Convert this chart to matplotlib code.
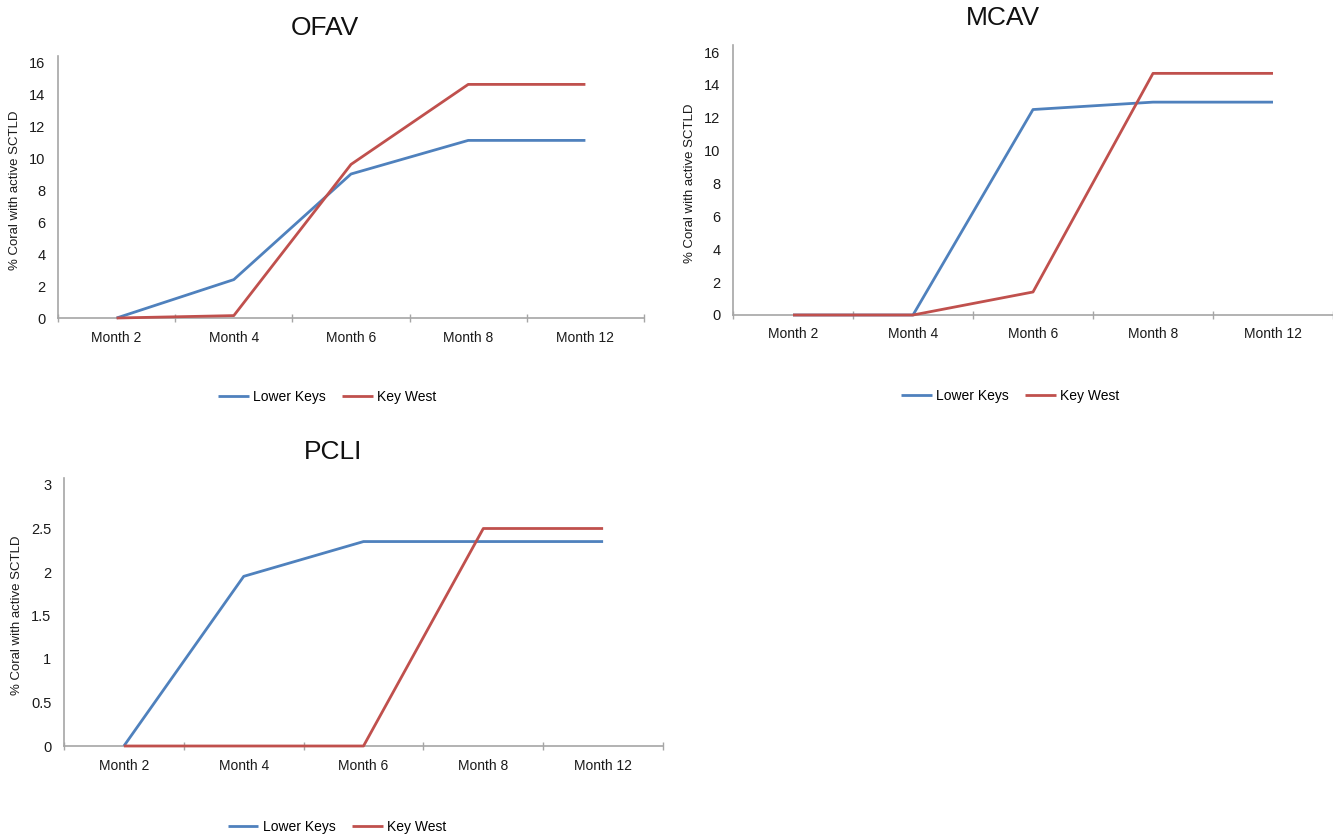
import matplotlib
matplotlib.use("Agg")
import matplotlib.pyplot as plt

plt.rcParams["font.family"] = ["Liberation Sans", "DejaVu Sans"]

months = ["Month 2", "Month 4", "Month 6", "Month 8", "Month 12"]
series_names = ["Lower Keys", "Key West"]

ofav_lower_keys = [0, 2.4, 9.0, 11.1, 11.1]
ofav_key_west = [0, 0.15, 9.6, 14.6, 14.6]

mcav_lower_keys = [0, 0, 12.5, 12.95, 12.95]
mcav_key_west = [0, 0, 1.4, 14.7, 14.7]

pcli_lower_keys = [0, 1.95, 2.35, 2.35, 2.35]
pcli_key_west = [0, 0, 0, 2.5, 2.5]

BLUE = "#4F81BD"
RED = "#C0504D"
GRAY = "#A6A6A6"

W, H = 1333, 840


def px_axes(fig, left, right, bottom, top):
    return fig.add_axes([left / W, 1 - bottom / H, (right - left) / W, (bottom - top) / H])


def draw_panel(fig, box, lower, west, ymax, ystep, title, title_xy, ylabel_x, legend_xy):
    ax = px_axes(fig, *box)
    ax.set_axisbelow(True)
    x = range(len(months))
    ax.plot(x, lower, color=BLUE, lw=2.0, label=series_names[0], solid_capstyle="butt", zorder=3)
    ax.plot(x, west, color=RED, lw=2.0, label=series_names[1], solid_capstyle="butt", zorder=3)
    ax.set_xlim(-0.5, len(months) - 0.5)
    ax.set_ylim(0, ymax)
    ticks = [i * ystep for i in range(int(round(ymax / ystep)) + 1)]
    ax.set_yticks(ticks)
    ax.set_yticklabels([f"{t:g}" for t in ticks])
    ax.set_xticks(list(x))
    ax.set_xticklabels(months)
    ax.set_xticks([i - 0.5 for i in range(len(months) + 1)], minor=True)
    ax.tick_params(axis="x", which="major", length=0, pad=9, labelsize=10, colors="#1a1a1a")
    ax.tick_params(axis="x", which="minor", length=6, width=1.0, color=GRAY, direction="inout")
    ax.tick_params(axis="y", length=0, labelsize=10.5, pad=9, colors="#1a1a1a")
    for s in ["top", "right"]:
        ax.spines[s].set_visible(False)
    for s in ["left", "bottom"]:
        ax.spines[s].set_color(GRAY)
        ax.spines[s].set_linewidth(1.2)
        ax.spines[s].set_zorder(1)
    ax.spines["left"].set_bounds(0, ymax * 1.025)
    ax.spines["left"].set_clip_on(False)
    for ln in ax.lines:
        ln.set_clip_on(False)
    fig.text(title_xy[0] / W, 1 - title_xy[1] / H, title, ha="center", va="center",
             fontsize=19, color="#111111")
    cy = (box[2] + box[3]) / 2
    fig.text(ylabel_x / W, 1 - cy / H, "% Coral with active SCTLD", rotation=90,
             ha="center", va="center", fontsize=9.5, color="#1a1a1a")
    fig.legend(handles=ax.lines, labels=series_names, loc="center", ncol=2,
               bbox_to_anchor=(legend_xy[0] / W, 1 - legend_xy[1] / H),
               frameon=False, fontsize=10, handlelength=2.2, handletextpad=0.3,
               columnspacing=1.2)
    return ax


fig = plt.figure(figsize=(W / 100, H / 100), dpi=100)

draw_panel(fig, (58, 644, 318, 62), ofav_lower_keys, ofav_key_west, 16, 2,
           "OFAV", (325, 28), 15, (327, 397))
draw_panel(fig, (733, 1333, 315, 52), mcav_lower_keys, mcav_key_west, 16, 2,
           "MCAV", (1003, 18), 690, (1010, 396))
draw_panel(fig, (64, 663, 746, 485), pcli_lower_keys, pcli_key_west, 3, 0.5,
           "PCLI", (333, 452), 17, (337, 827))

plt.savefig("out.png", dpi=100)
plt.close()
